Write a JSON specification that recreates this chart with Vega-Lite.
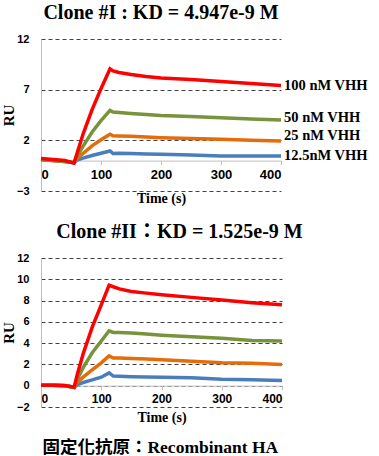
{
  "$schema": "https://vega.github.io/schema/vega-lite/v6.json",
  "background": "white",
  "padding": {"left": 1, "top": 3, "right": 3, "bottom": 3},
  "config": {
    "view": {"stroke": null},
    "concat": {"spacing": 16},
    "axis": {"labelColor": "black", "titleColor": "black"}
  },
  "title": {
    "text": "固定化抗原：Recombinant HA",
    "orient": "bottom",
    "anchor": "start",
    "font": "Liberation Serif, Noto Sans CJK TC",
    "fontSize": 17.5,
    "fontWeight": "bold",
    "color": "black",
    "dx": 41,
    "offset": 14
  },
  "vconcat": [
    {
      "width": 240,
      "height": 152,
      "title": {
        "text": "Clone #I : KD = 4.947e-9 M",
        "font": "Liberation Serif",
        "fontSize": 20,
        "fontWeight": "bold",
        "color": "black",
        "offset": 10
      },
      "layer": [
        {
          "data": {
            "values": [
              {"t": 0, "s12": 0.1, "s25": 0.1, "s50": 0.1, "s100": 0.2},
              {"t": 20, "s12": 0.0, "s25": 0.0, "s50": 0.0, "s100": 0.1},
              {"t": 40, "s12": -0.1, "s25": -0.1, "s50": -0.1, "s100": 0.0},
              {"t": 55, "s12": -0.2, "s25": -0.2, "s50": -0.2, "s100": -0.25},
              {"t": 60, "s12": 0.05, "s25": 0.2, "s50": 0.4, "s100": 0.7},
              {"t": 70, "s12": 0.25, "s25": 0.7, "s50": 1.4, "s100": 2.6},
              {"t": 85, "s12": 0.5, "s25": 1.45, "s50": 2.8, "s100": 5.0},
              {"t": 100, "s12": 0.72, "s25": 2.05, "s50": 3.95, "s100": 7.1},
              {"t": 115, "s12": 0.95, "s25": 2.6, "s50": 4.95, "s100": 9.05},
              {"t": 120, "s12": 0.7, "s25": 2.45, "s50": 4.8, "s100": 8.85},
              {"t": 130, "s12": 0.72, "s25": 2.43, "s50": 4.75, "s100": 8.7},
              {"t": 150, "s12": 0.7, "s25": 2.4, "s50": 4.65, "s100": 8.5},
              {"t": 175, "s12": 0.66, "s25": 2.33, "s50": 4.55, "s100": 8.3},
              {"t": 200, "s12": 0.62, "s25": 2.26, "s50": 4.45, "s100": 8.15},
              {"t": 250, "s12": 0.55, "s25": 2.18, "s50": 4.35, "s100": 8.0},
              {"t": 300, "s12": 0.45, "s25": 2.1, "s50": 4.22, "s100": 7.8},
              {"t": 350, "s12": 0.45, "s25": 2.0, "s50": 4.1, "s100": 7.6},
              {"t": 400, "s12": 0.45, "s25": 1.93, "s50": 4.0, "s100": 7.4}
            ]
          },
          "transform": [{"fold": ["s12", "s25", "s50", "s100"], "as": ["c", "ru"]}],
          "mark": {"type": "line", "strokeWidth": 3.5},
          "encoding": {
            "x": {
              "field": "t", "type": "quantitative",
              "scale": {"domain": [0, 400], "nice": false},
              "axis": {
                "values": [0, 100, 200, 300, 400],
                "grid": false, "domain": true, "domainColor": "#BFBFBF",
                "ticks": true, "tickColor": "#BFBFBF", "tickSize": 4,
                "offset": -30.4,
                "labelFont": "Liberation Sans", "labelFontWeight": "bold", "labelFontSize": 13,
                "labelPadding": 4,
                "title": "Time (s)", "titleFont": "Liberation Serif", "titleFontWeight": "bold",
                "titleFontSize": 14, "titlePadding": 10
              }
            },
            "y": {
              "field": "ru", "type": "quantitative",
              "scale": {"domain": [-3, 12], "nice": false, "zero": false},
              "axis": {
                "values": [-3, 2, 7, 12],
                "grid": true, "gridDash": [4, 3], "gridColor": "#404040", "gridWidth": 1,
                "domain": true, "domainColor": "#BFBFBF",
                "ticks": false, "tickSize": 0,
                "labelFont": "Liberation Sans", "labelFontWeight": "bold", "labelFontSize": 11,
                "labelPadding": 12,
                "title": "RU", "titleFont": "Liberation Serif", "titleFontWeight": "bold",
                "titleFontSize": 15, "titlePadding": 0
              }
            },
            "color": {
              "field": "c", "type": "nominal", "legend": null,
              "scale": {"domain": ["s12", "s25", "s50", "s100"], "range": ["#4A7EBB", "#E46C0A", "#77933C", "#FF0000"]}
            }
          }
        },
        {
          "data": {
            "values": [
              {"label": "100 nM VHH", "y": 7.36},
              {"label": "50 nM VHH", "y": 4.2},
              {"label": "25 nM VHH", "y": 2.38},
              {"label": "12.5nM VHH", "y": 0.45}
            ]
          },
          "mark": {"type": "text", "align": "left", "baseline": "middle", "dx": 3, "font": "Liberation Serif", "fontWeight": "bold", "fontSize": 14.5, "color": "black"},
          "encoding": {
            "x": {"datum": 400, "type": "quantitative"},
            "y": {"field": "y", "type": "quantitative"},
            "text": {"field": "label"}
          }
        }
      ]
    },
    {
      "width": 241,
      "height": 149,
      "title": {
        "text": "Clone #II：KD = 1.525e-9 M",
        "font": "Liberation Serif, Noto Sans CJK TC",
        "fontSize": 20,
        "fontWeight": "bold",
        "color": "black",
        "offset": 10,
        "dx": 18
      },
      "data": {
        "values": [
          {"t": 0, "s12": 0.05, "s25": 0.05, "s50": 0.05, "s100": 0.05},
          {"t": 20, "s12": 0.05, "s25": 0.05, "s50": 0.05, "s100": 0.05},
          {"t": 40, "s12": 0.0, "s25": 0.0, "s50": 0.0, "s100": 0.02},
          {"t": 55, "s12": -0.15, "s25": -0.15, "s50": -0.15, "s100": -0.15},
          {"t": 60, "s12": 0.1, "s25": 0.3, "s50": 0.6, "s100": 1.0},
          {"t": 70, "s12": 0.3, "s25": 0.8, "s50": 1.7, "s100": 3.0},
          {"t": 85, "s12": 0.55, "s25": 1.5, "s50": 3.1, "s100": 5.5},
          {"t": 100, "s12": 0.8, "s25": 2.15, "s50": 4.2, "s100": 7.6},
          {"t": 113, "s12": 1.2, "s25": 2.8, "s50": 5.15, "s100": 9.45},
          {"t": 120, "s12": 0.9, "s25": 2.6, "s50": 5.0, "s100": 9.3},
          {"t": 130, "s12": 0.88, "s25": 2.6, "s50": 5.0, "s100": 9.1},
          {"t": 150, "s12": 0.85, "s25": 2.55, "s50": 4.95, "s100": 8.85},
          {"t": 175, "s12": 0.82, "s25": 2.5, "s50": 4.85, "s100": 8.7},
          {"t": 200, "s12": 0.8, "s25": 2.45, "s50": 4.75, "s100": 8.55},
          {"t": 250, "s12": 0.75, "s25": 2.3, "s50": 4.6, "s100": 8.3},
          {"t": 300, "s12": 0.6, "s25": 2.15, "s50": 4.45, "s100": 8.05},
          {"t": 350, "s12": 0.55, "s25": 2.1, "s50": 4.25, "s100": 7.8},
          {"t": 400, "s12": 0.5, "s25": 2.0, "s50": 4.2, "s100": 7.6}
        ]
      },
      "transform": [{"fold": ["s12", "s25", "s50", "s100"], "as": ["c", "ru"]}],
      "mark": {"type": "line", "strokeWidth": 3.5},
      "encoding": {
        "x": {
          "field": "t", "type": "quantitative",
          "scale": {"domain": [0, 400], "nice": false},
          "axis": {
            "values": [0, 100, 200, 300, 400],
            "grid": false, "domain": true, "domainColor": "#BFBFBF",
            "ticks": true, "tickColor": "#BFBFBF", "tickSize": 4,
            "offset": -21.3,
            "labelFont": "Liberation Sans", "labelFontWeight": "bold", "labelFontSize": 12,
            "labelPadding": 4,
            "title": "Time (s)", "titleFont": "Liberation Serif", "titleFontWeight": "bold",
            "titleFontSize": 14, "titlePadding": 6
          }
        },
        "y": {
          "field": "ru", "type": "quantitative",
          "scale": {"domain": [-2, 12], "nice": false, "zero": false},
          "axis": {
            "values": [-2, 0, 2, 4, 6, 8, 10, 12],
            "grid": true, "gridDash": [4, 3], "gridColor": "#404040", "gridWidth": 1,
            "domain": true, "domainColor": "#BFBFBF",
            "ticks": false, "tickSize": 0,
            "labelFont": "Liberation Sans", "labelFontWeight": "bold", "labelFontSize": 11,
            "labelPadding": 12,
            "title": "RU", "titleFont": "Liberation Serif", "titleFontWeight": "bold",
            "titleFontSize": 15, "titlePadding": 0
          }
        },
        "color": {
          "field": "c", "type": "nominal", "legend": null,
          "scale": {"domain": ["s12", "s25", "s50", "s100"], "range": ["#4A7EBB", "#E46C0A", "#9BBB59", "#FF0000"]}
        }
      }
    }
  ]
}
